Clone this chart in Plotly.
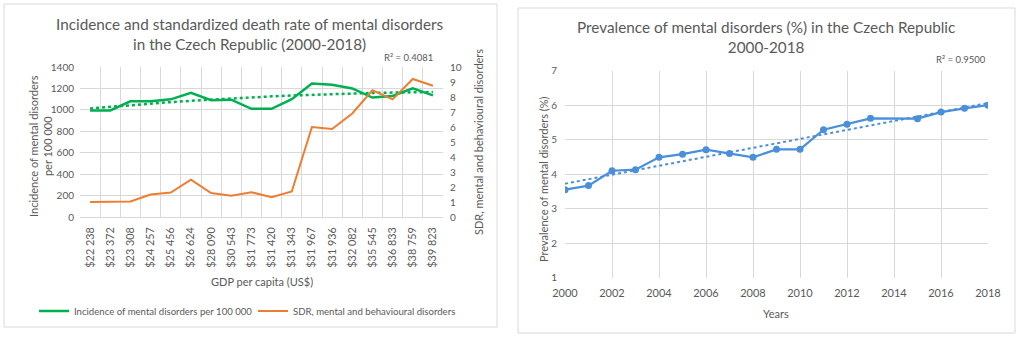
import numpy as np
import plotly.graph_objects as go

# ---------------- data ----------------
gdp_labels = ["$22 238", "$23 372", "$23 308", "$24 257", "$25 456", "$26 624",
              "$28 090", "$30 543", "$31 773", "$31 420", "$31 343", "$31 967",
              "$31 936", "$32 082", "$35 545", "$36 833", "$38 759", "$39 823"]
incidence = [995, 995, 1080, 1080, 1098, 1160, 1090, 1095, 1010, 1010,
             1100, 1245, 1235, 1200, 1115, 1130, 1200, 1135]
sdr = [1.0, 1.03, 1.03, 1.5, 1.63, 2.49, 1.6, 1.41, 1.65, 1.32,
       1.7, 6.0, 5.87, 6.9, 8.45, 7.84, 9.2, 8.75]

years = [2000, 2001, 2002, 2003, 2004, 2005, 2006, 2007, 2008, 2009,
         2010, 2011, 2012, 2013, 2015, 2016, 2017, 2018]
prevalence = [3.55, 3.67, 4.10, 4.13, 4.49, 4.58, 4.71, 4.60, 4.49, 4.72,
              4.72, 5.29, 5.45, 5.62, 5.61, 5.80, 5.91, 6.00]

# ---------------- styles ----------------
FONT = "Lato, 'Open Sans', sans-serif"
GREY = "#595959"
GRID = "#D9D9D9"
GREEN = "#00B050"
ORANGE = "#ED7D31"
BLUE = "#4A8FD9"
W, H = 1021, 339

def px(x):
    return x / W

def py(y):
    return 1 - y / H

cat_x = list(range(1, len(gdp_labels) + 1))
# polynomial (order 2) trendline for incidence, as in the source chart
c2 = np.polyfit(cat_x, incidence, 2)
inc_trend = np.polyval(c2, cat_x)
# linear trendline for prevalence
c1 = np.polyfit(years, prevalence, 1)
prev_trend = np.polyval(c1, years)

fig = go.Figure()

fig.add_trace(go.Scatter(x=cat_x, y=incidence, mode="lines", name="Incidence of mental disorders per 100 000",
                         line=dict(color=GREEN, width=2.5), xaxis="x", yaxis="y"))
fig.add_trace(go.Scatter(x=cat_x, y=sdr, mode="lines", name="SDR, mental and behavioural disorders",
                         line=dict(color=ORANGE, width=2), xaxis="x", yaxis="y2"))
fig.add_trace(go.Scatter(x=cat_x, y=inc_trend, mode="lines", showlegend=False,
                         line=dict(color=GREEN, width=2.5, dash="dot"), xaxis="x", yaxis="y"))

fig.add_trace(go.Scatter(x=years, y=prev_trend, mode="lines", showlegend=False,
                         line=dict(color=BLUE, width=2, dash="dot"), xaxis="x2", yaxis="y3"))
fig.add_trace(go.Scatter(x=years, y=prevalence, mode="lines+markers", showlegend=False,
                         line=dict(color=BLUE, width=2.2), marker=dict(size=7, color=BLUE),
                         xaxis="x2", yaxis="y3"))

tickfont = dict(family=FONT, size=10, color=GREY)


def note(text, x, y, size=11, angle=0):
    return dict(text=text, x=px(x), y=py(y), xref="paper", yref="paper", showarrow=False,
                xanchor="center", yanchor="middle", textangle=angle,
                font=dict(family=FONT, size=size, color=GREY))


fig.update_layout(
    template="none",
    width=W, height=H, margin=dict(l=0, r=0, t=0, b=0, pad=0, autoexpand=False),
    paper_bgcolor="white", plot_bgcolor="white",
    font=dict(family=FONT, color=GREY),
    xaxis=dict(domain=[px(80), px(443)], anchor="y", range=[0.5, 18.5], automargin=False,
               tickmode="array", tickvals=cat_x, ticktext=gdp_labels, tickangle=-90,
               tickfont=dict(family=FONT, size=10.8, color=GREY), ticks="", ticklabelstandoff=5,
               showgrid=False, zeroline=False, showline=True, linecolor=GRID, linewidth=1,
               minor=dict(tickmode="array", tickvals=[i + 0.5 for i in range(0, 19)],
                          showgrid=True, gridcolor=GRID, gridwidth=1)),
    yaxis=dict(domain=[py(217), py(67)], anchor="x", range=[0, 1400], dtick=200, automargin=False,
               tickfont=tickfont, showgrid=True, gridcolor=GRID, zeroline=False, ticks="",
               ticklabelstandoff=5),
    yaxis2=dict(overlaying="y", side="right", anchor="x", range=[0, 10], dtick=1, automargin=False,
                tickfont=tickfont, showgrid=False, zeroline=False, ticks="", ticklabelstandoff=6),
    xaxis2=dict(domain=[px(565), px(988)], anchor="y3", range=[2000, 2018], dtick=2, automargin=False,
                tickfont=dict(family=FONT, size=11, color=GREY), ticks="", ticklabelstandoff=7,
                showgrid=True, gridcolor=GRID, zeroline=False, showline=False),
    yaxis3=dict(domain=[py(277.7), py(70.7)], anchor="x2", range=[1, 7], dtick=1, automargin=False,
                tickfont=tickfont, showgrid=True, gridcolor=GRID, zeroline=False, ticks="",
                ticklabelstandoff=7),
    legend=dict(orientation="h", x=px(34), y=py(311), xanchor="left", yanchor="middle",
                font=dict(family=FONT, size=9.6, color=GREY), itemwidth=30,
                entrywidth=174, entrywidthmode="pixels", bgcolor="rgba(0,0,0,0)"),
    shapes=[
        dict(type="rect", xref="paper", yref="paper", x0=px(4), x1=px(497), y0=py(327), y1=py(4),
             line=dict(color="#D9D9D9", width=1)),
        dict(type="rect", xref="paper", yref="paper", x0=px(518), x1=px(1015), y0=py(333), y1=py(8),
             line=dict(color="#D9D9D9", width=1)),
    ],
    annotations=[
        note("Incidence and standardized death rate of mental disorders<br>in the Czech Republic (2000-2018)",
             250, 34, size=15.3),
        note("Prevalence of mental disorders (%) in the Czech Republic<br>2000-2018", 766, 37, size=15.3),
        note("R² = 0.4081", 408, 58, size=9.5),
        note("R² = 0.9500", 961, 59, size=9.5),
        note("Incidence of mental disorders<br>per 100 000", 40, 146, angle=-90),
        note("SDR, mental and behavioural disorders", 478, 142, angle=-90),
        note("GDP per capita (US$)", 262, 281),
        note("Prevalence of mental disorders (%)", 543, 180, angle=-90),
        note("Years", 776, 313),
    ],
)

fig.write_html("out.html", config={"displayModeBar": False},
               post_script="document.body.style.margin='0';document.body.style.overflow='hidden';")
